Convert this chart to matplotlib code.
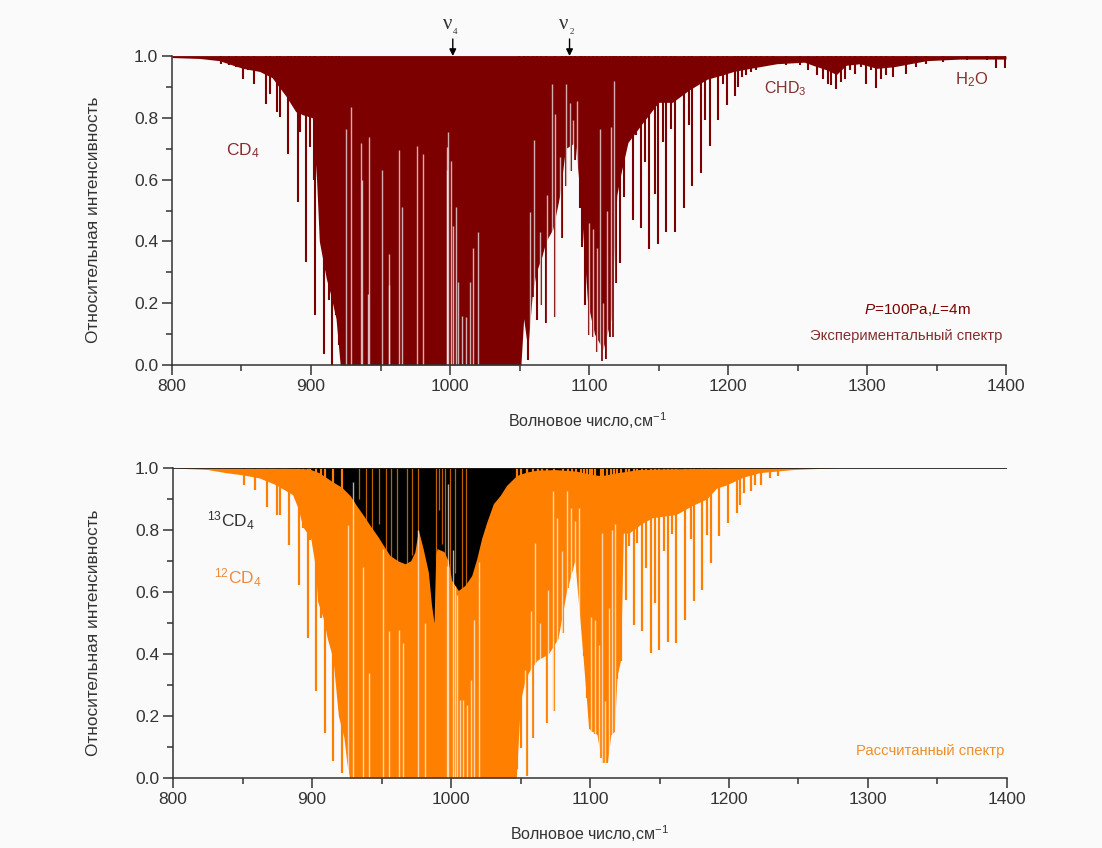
import matplotlib
matplotlib.use("Agg")
import matplotlib.pyplot as plt
from matplotlib.ticker import MultipleLocator

plt.rcParams['font.family'] = ['Liberation Sans', 'DejaVu Sans']
plt.rcParams['mathtext.fontset'] = 'custom'
plt.rcParams['mathtext.rm'] = 'Liberation Sans'
plt.rcParams['mathtext.it'] = 'Liberation Sans:italic'
plt.rcParams['mathtext.default'] = 'regular'

BG = '#fafafa'
RED = '#7d0000'
ORANGE = '#ff8000'
TXT = '#333333'

xticks = [800, 900, 1000, 1100, 1200, 1300, 1400]

# --- experimental spectrum: continuous absorption envelope
exp_base_x = [800, 820, 834, 844, 851, 863, 872, 882, 889, 894, 901, 904, 906, 911, 914, 918, 921,
              1051, 1053, 1056, 1059, 1062, 1066, 1069, 1074, 1079, 1083, 1090, 1093, 1094.5, 1097, 1099, 1104, 1110, 1116, 1120,
              1123, 1128, 1138, 1150, 1160, 1172, 1185, 1197, 1204, 1216, 1235, 1255, 1261, 1271, 1278, 1285, 1295,
              1307, 1319, 1343, 1367, 1400]
exp_base_y = [0.995, 0.992, 0.985, 0.97, 0.96, 0.95, 0.93, 0.87, 0.82, 0.81, 0.80, 0.60, 0.40, 0.28, 0.23, 0.15, 0.0,
              0.0, 0.15, 0.05, 0.22, 0.30, 0.35, 0.40, 0.44, 0.55, 0.70, 0.72, 0.58, 0.50, 0.33, 0.20, 0.10, 0.05, 0.15, 0.55,
              0.62, 0.72, 0.78, 0.85, 0.85, 0.89, 0.925, 0.94, 0.95, 0.96, 0.975, 0.98, 0.97, 0.955, 0.94, 0.97, 0.975,
              0.96, 0.965, 0.985, 0.99, 0.99]

# experimental absorption lines: position, lowest intensity
exp_line_x = [835.3, 841, 846, 851, 854.6, 859, 867.3, 870.2, 875.5, 877.4, 883.4, 885.8, 888.2, 890.4, 892.3, 894.2,
              896.6, 899, 901.9, 902.9, 907.5, 909.1, 911, 912.9, 915, 915.4, 918.3, 920,
              1049.8, 1052.9, 1056, 1059.4, 1062.5, 1065.6, 1069, 1075.2, 1080.7, 1083.8, 1087, 1090,
              1093.4, 1095.3, 1097, 1100, 1103, 1105.9, 1109.7, 1111.9, 1115, 1117, 1119.3, 1122.2, 1125.5,
              1128, 1131.3, 1134, 1137.3, 1140.6, 1143.5, 1147.3, 1149.5, 1152.9, 1155.7, 1159.3, 1162, 1168,
              1172, 1174.2, 1180.7, 1183.8, 1186.7, 1192.9, 1196.5, 1199.4, 1204.9, 1207.3, 1210.4,
              1213.3, 1216.9, 1220.5, 1224.1, 1227.7, 1232.5, 1242, 1251.7, 1257.7, 1263.7, 1268.4, 1272, 1274.4, 1278,
              1281.6, 1284, 1287.6, 1291.2, 1296, 1299.6, 1303.2, 1306.3, 1310.4, 1314, 1318.8, 1328.4, 1335.6, 1342.8,
              1354.8, 1371.6, 1386, 1393.1, 1399.1]
exp_line_y = [0.975, 0.97, 0.965, 0.927, 0.954, 0.91, 0.844, 0.878, 0.82, 0.803, 0.684, 0.857, 0.862, 0.528, 0.754, 0.814,
              0.334, 0.706, 0.598, 0.162, 0.404, 0.034, 0.345, 0.21, 0.259, 0.0, 0.162, 0.065,
              0.032, 0.16, 0.016, 0.22, 0.145, 0.194, 0.135, 0.156, 0.41, 0.58, 0.627, 0.663,
              0.507, 0.383, 0.194, 0.097, 0.09, 0.043, 0.013, 0.02, 0.09, 0.09, 0.264, 0.33, 0.544,
              0.733, 0.469, 0.743, 0.444, 0.657, 0.377, 0.555, 0.393, 0.722, 0.431, 0.765, 0.431, 0.509,
              0.776, 0.58, 0.622, 0.792, 0.709, 0.794, 0.909, 0.842, 0.87, 0.90, 0.932,
              0.937, 0.948, 0.954, 0.97, 0.97, 0.975, 0.972, 0.97, 0.954, 0.938, 0.927, 0.911, 0.905, 0.894,
              0.916, 0.927, 0.954, 0.943, 0.965, 0.91, 0.954, 0.896, 0.927, 0.938, 0.932, 0.943, 0.965, 0.975,
              0.98, 0.986, 0.986, 0.96, 0.96]

# experimental transmission windows between lines: position, peak intensity
exp_gap_x = [925.5, 929, 936.3, 936.6, 941.6, 941, 951.2, 956, 956.4, 963, 965.6, 976, 980.8, 997.6, 997.8, 998.8,
             1000.5, 1002.4, 1004, 1006, 1008.4, 1011.3, 1014.4, 1016.8, 1020.2,
             1057.7, 1060.6, 1064.4, 1069.7, 1073.3, 1075.7, 1079.3, 1083.4, 1086, 1088.5, 1091.3,
             1100, 1103, 1105.9, 1108, 1110, 1113, 1116, 1118]
exp_gap_y = [0.765, 0.835, 0.717, 0.60, 0.738, 0.23, 0.63, 0.36, 0.26, 0.695, 0.51, 0.71, 0.684, 0.706, 0.63, 0.754,
             0.66, 0.45, 0.51, 0.27, 0.16, 0.155, 0.27, 0.38, 0.43,
             0.496, 0.727, 0.431, 0.55, 0.91, 0.811, 0.673, 0.91, 0.849, 0.792, 0.853,
             0.46, 0.44, 0.38, 0.765, 0.20, 0.50, 0.77, 0.92]

# --- calculated 12CD4
calc_base_x = [800, 825, 838, 850, 862, 874, 886, 890, 893.4, 899, 902.5, 904, 908, 911, 915, 919, 923, 925, 927,
               1047, 1050, 1053.5, 1057, 1062, 1066, 1070, 1077, 1083, 1089, 1092, 1095, 1097.5, 1099, 1102,
               1105, 1107.5, 1110, 1112.5, 1115, 1117.5, 1119.5, 1122, 1124, 1128, 1137, 1145,
               1162, 1174, 1184, 1191, 1198, 1210, 1222, 1246, 1262, 1280]
calc_base_y = [1.0, 0.995, 0.985, 0.978, 0.968, 0.946, 0.914, 0.87, 0.81, 0.775, 0.68, 0.57, 0.516, 0.45, 0.387, 0.2, 0.13, 0.05, 0.0,
               0.0, 0.25, 0.32, 0.35, 0.38, 0.39, 0.40, 0.45, 0.60, 0.70, 0.55, 0.39, 0.25, 0.16, 0.15,
               0.14, 0.07, 0.05, 0.05, 0.14, 0.15, 0.33, 0.38, 0.79, 0.79, 0.82, 0.84,
               0.85, 0.88, 0.90, 0.935, 0.945, 0.97, 0.985, 0.995, 0.998, 1.0]

calc_line_x = [850.8, 859.2, 867.4, 874.6, 877, 883.3, 890.3, 893.4, 897, 898.9, 903.2, 906.6, 909.3, 915.3, 921.5,
               1047.4, 1050.3, 1054.6, 1059, 1062.3, 1065.5, 1069, 1073.9,
               1080.8, 1084.2, 1087, 1090.2, 1093.3, 1095.7, 1098, 1100, 1101.7, 1103.6, 1107.7, 1109.6, 1112, 1115, 1117.2,
               1119.6, 1122.3, 1125.6, 1128.3, 1131.4, 1134, 1137.4, 1140.5, 1143.6, 1146.7, 1149.6, 1153.2, 1155.9,
               1159, 1162, 1168.3, 1172.4, 1174.6, 1180.8, 1183.9, 1186.8, 1193, 1199.3, 1205.5, 1207.9, 1211, 1215.6,
               1218.7, 1223.2, 1229.5, 1235.5]
calc_line_y = [0.946, 0.93, 0.873, 0.85, 0.85, 0.753, 0.622, 0.806, 0.452, 0.769, 0.28, 0.516, 0.145, 0.054, 0.016,
               0.03, 0.097, 0.005, 0.13, 0.38, 0.41, 0.177, 0.215,
               0.468, 0.613, 0.667, 0.70, 0.565, 0.392, 0.258, 0.188, 0.15, 0.142, 0.065, 0.048, 0.052, 0.14, 0.148,
               0.32, 0.376, 0.575, 0.747, 0.495, 0.758, 0.473, 0.677, 0.403, 0.565, 0.414, 0.731, 0.439,
               0.787, 0.435, 0.509, 0.771, 0.572, 0.608, 0.785, 0.694, 0.78, 0.823, 0.855, 0.882, 0.92, 0.925,
               0.946, 0.946, 0.968, 0.973]

calc_gap_x = [926.2, 929.3, 936.5, 941, 951.4, 955.5, 962.4, 965.6, 976, 981, 997.4, 997.8, 1001.2, 1002.9, 1004.1,
              1006.5, 1008.4, 1011.3, 1014.4, 1016.7, 1019.8, 1053,
              1057.6, 1060.6, 1064.3, 1069.8, 1073.2, 1076.3, 1079.9, 1083.3, 1086.6, 1089.5, 1091.9,
              1100.5, 1103.5, 1106.5, 1108.4, 1111, 1113.7, 1116, 1118]
calc_gap_y = [0.815, 0.955, 0.68, 0.34, 0.74, 0.473, 0.478, 0.435, 0.80, 0.50, 0.685, 0.95, 0.734, 0.618, 0.589,
              0.253, 0.253, 0.237, 0.317, 0.51, 0.696, 0.35,
              0.538, 0.758, 0.50, 0.608, 0.925, 0.839, 0.731, 0.925, 0.871, 0.828, 0.871,
              0.52, 0.51, 0.43, 0.79, 0.25, 0.55, 0.80, 0.82]

# --- calculated 13CD4
c13_x = [800, 880, 898, 905, 915, 921.4, 927.4, 932, 937, 941.7, 947.7, 951.4, 956, 962, 967, 971, 974, 976.5, 980, 983.7, 986, 987.8, 989,
         990, 995, 998, 1000.5, 1005.3, 1010, 1014.9, 1018.5, 1022, 1025.7, 1030.5, 1035.3, 1040, 1047.3, 1054.5, 1062, 1075, 1090, 1100, 1108, 1120, 1135, 1150, 1170, 1200, 1280]
c13_y = [1.0, 1.0, 0.997, 0.985, 0.955, 0.938, 0.911, 0.879, 0.847, 0.815, 0.777, 0.75, 0.718, 0.70, 0.691, 0.701, 0.729, 0.80, 0.739, 0.664, 0.557, 0.50, 0.72,
         0.74, 0.73, 0.70, 0.637, 0.605, 0.621, 0.653, 0.707, 0.772, 0.825, 0.885, 0.911, 0.944, 0.976, 0.987, 0.993, 0.995, 0.99, 0.98, 0.975, 0.985, 0.995, 0.997, 0.998, 0.999, 1.0]

# 12CD4 lines visible across the 13CD4 band
over_x = [934, 939, 943, 948, 953, 956.5, 961, 968, 972, 976, 989, 991.2, 993.6, 996, 999.5, 1002.8, 1007.7, 1011, 1055, 1058, 1062]
over_y = [0.90, 0.80, 0.72, 0.82, 0.72, 0.62, 0.68, 0.68, 0.72, 0.78, 0.70, 0.865, 0.755, 0.69, 0.64, 0.66, 0.60, 0.62, 0.90, 0.88, 0.90]

fig = plt.figure(figsize=(11.02, 8.48), dpi=100, facecolor=BG)
W, H = 1102, 848


def make_axes(l, r, t, b):
    ax = fig.add_axes([l / W, 1 - b / H, (r - l) / W, (b - t) / H], facecolor=BG)
    ax.set_xlim(800, 1400)
    ax.set_ylim(0, 1)
    for s in ('top', 'right'):
        ax.spines[s].set_visible(False)
    for s in ('left', 'bottom'):
        ax.spines[s].set_color('#333333')
        ax.spines[s].set_linewidth(1.1)
    ax.set_xticks(xticks)
    ax.xaxis.set_minor_locator(MultipleLocator(50))
    ax.yaxis.set_major_locator(MultipleLocator(0.2))
    ax.yaxis.set_minor_locator(MultipleLocator(0.1))
    ax.tick_params(which='major', length=7, width=1.1, color='#333333', labelsize=12.5, labelcolor=TXT, pad=3)
    ax.tick_params(which='minor', length=4, width=1.1, color='#333333')
    ax.set_axisbelow(False)
    return ax


# top panel
ax1 = make_axes(172, 1006, 56, 365)
ax1.fill_between(exp_base_x, exp_base_y, 1, color=RED, lw=0)
ax1.vlines(exp_line_x, exp_line_y, 1, color=RED, lw=1.5)
ax1.vlines(exp_gap_x, 0, exp_gap_y, color=BG, lw=1.0, alpha=0.7)
ax1.axhline(1, color=RED, lw=1.2)

# bottom panel
ax2 = make_axes(173, 1007, 468, 778)
ax2.fill_between(calc_base_x, calc_base_y, 1, color=ORANGE, lw=0)
ax2.vlines(calc_line_x, calc_line_y, 1, color=ORANGE, lw=1.6)
ax2.fill_between(c13_x, c13_y, 1, color='black', lw=0)
ax2.vlines(over_x, over_y, 1, color=ORANGE, lw=0.9, alpha=0.75)
ax2.vlines(calc_gap_x, 0, calc_gap_y, color=BG, lw=1.0, alpha=0.7)
ax2.axhline(1, color='black', lw=1.1)

# axis titles
for (x, y) in [(93, 220), (94, 633)]:
    fig.text(x / W, 1 - y / H, 'Относительная интенсивность', rotation=90, ha='center', va='center',
             fontsize=12.4, color=TXT)
for (x, y) in [(587, 421), (589, 834)]:
    fig.text(x / W, 1 - y / H, 'Волновое число,см$^{-1}$', ha='center', va='center', fontsize=11.5, color=TXT)

# annotations
DR = '#84302f'
ax1.text(851, 0.695, 'CD$_4$', color=DR, fontsize=12.5, ha='center', va='center')
ax1.text(1241, 0.893, 'CHD$_3$', color=DR, fontsize=11.5, ha='center', va='center')
ax1.text(1375.5, 0.925, 'H$_2$O', color=DR, fontsize=12, ha='center', va='center')
ax1.text(1336, 0.178, '$\\mathit{P}$=100Pa,$\\mathit{L}$=4m', color=RED, fontsize=11, ha='center', va='center')
ax1.text(1328, 0.093, 'Экспериментальный спектр', color=DR, fontsize=10.7, ha='center', va='center')
ax2.text(841.7, 0.83, '$^{13}$CD$_4$', color=TXT, fontsize=12.5, ha='center', va='center')
ax2.text(846.8, 0.647, '$^{12}$CD$_4$', color='#f08a3c', fontsize=12.5, ha='center', va='center')
ax2.text(1344.6, 0.088, 'Рассчитанный спектр', color='#ef8f2a', fontsize=10.7, ha='center', va='center')

# band markers
for wn, sub in [(1002, '4'), (1086, '2')]:
    ax1.annotate('', xy=(wn, 1.0), xytext=(wn, 1.055), annotation_clip=False,
                 arrowprops=dict(arrowstyle='-|>', color='black', lw=1, mutation_scale=10, shrinkA=0, shrinkB=0))
    ax1.text(wn - 0.5, 1.07, 'ν', family=['Liberation Serif', 'DejaVu Serif'], fontsize=15, color=TXT,
             ha='right', va='bottom', clip_on=False)
    ax1.text(wn, 1.065, sub, family=['Liberation Serif', 'DejaVu Serif'], fontsize=6.5, color=TXT,
             ha='left', va='bottom', clip_on=False)

fig.savefig('out.png', dpi=100, facecolor=BG)
